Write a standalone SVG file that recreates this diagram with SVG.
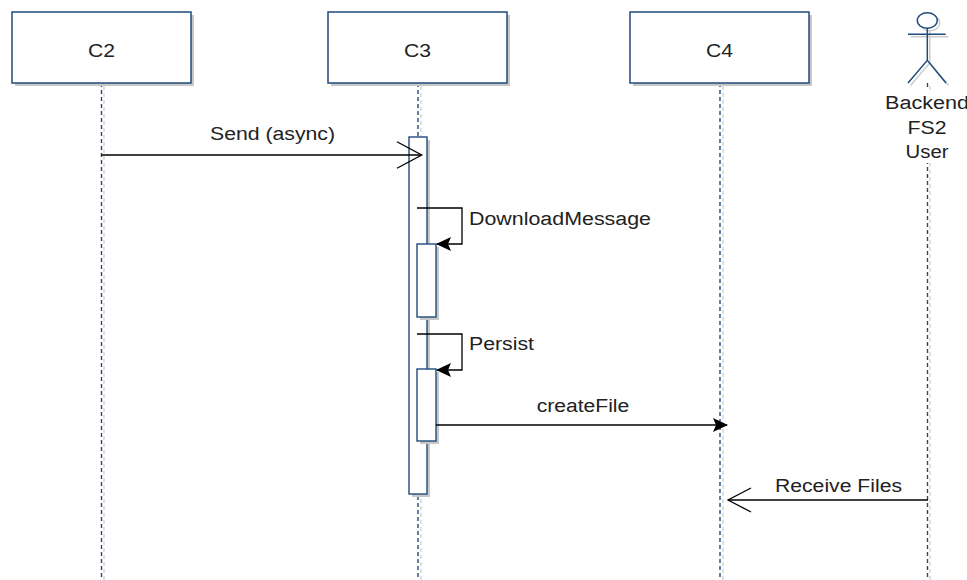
<svg xmlns="http://www.w3.org/2000/svg" width="967" height="580" viewBox="0 0 967 580">
<style>
.box{fill:#fff;stroke:#1f4a7c;stroke-width:1.5}
.sh{fill:#c8c8c8;stroke:none}
.shl{stroke:#d0d0d0;stroke-width:1.3;stroke-dasharray:4 3;fill:none}
.life{stroke:#1f4a7c;stroke-width:1.4;stroke-dasharray:4 3;fill:none}
.act{fill:#fff;stroke:#1f4a7c;stroke-width:1.4}
.msg{stroke:#000;stroke-width:1.3;fill:none}
.t{font-family:"Liberation Sans",Arial,sans-serif;font-size:18px;fill:#222}
.actor{stroke:#1f4a7c;stroke-width:1.5;fill:none}
.actorsh{stroke:#cccccc;stroke-width:1.5;fill:none}
</style>
<defs>
<marker id="block" viewBox="0 0 15 14" refX="14" refY="7" markerWidth="15" markerHeight="14" markerUnits="userSpaceOnUse" orient="auto">
<path d="M0,0 L15,7 L0,14 L3,7 Z" fill="#000"/>
</marker>
</defs>
<rect width="967" height="580" fill="#fff"/>

<g id="lifelines">
<line class="shl" x1="104" y1="86" x2="104" y2="580"/>
<line class="life" x1="101.5" y1="83" x2="101.5" y2="580"/>
<line class="shl" x1="421" y1="86" x2="421" y2="580"/>
<line class="life" x1="418" y1="83" x2="418" y2="580"/>
<line class="shl" x1="723" y1="86" x2="723" y2="580"/>
<line class="life" x1="720" y1="83" x2="720" y2="580"/>
<line class="shl" x1="930" y1="86" x2="930" y2="580"/>
<line class="life" x1="927.5" y1="83" x2="927.5" y2="580"/>
</g>

<g id="C2">
<rect class="sh" x="15" y="15" width="179" height="71"/>
<rect class="box" x="12" y="12" width="179" height="71"/>
<text class="t" x="101.5" y="57" text-anchor="middle" textLength="27" lengthAdjust="spacingAndGlyphs">C2</text>
</g>
<g id="C3">
<rect class="sh" x="331" y="15" width="179" height="71"/>
<rect class="box" x="328" y="12" width="179" height="71"/>
<text class="t" x="417.5" y="57" text-anchor="middle" textLength="27" lengthAdjust="spacingAndGlyphs">C3</text>
</g>
<g id="C4">
<rect class="sh" x="633" y="15" width="179" height="71"/>
<rect class="box" x="630" y="12" width="179" height="71"/>
<text class="t" x="719.5" y="57" text-anchor="middle" textLength="27" lengthAdjust="spacingAndGlyphs">C4</text>
</g>

<g id="actor">
<g transform="translate(2.5,2.5)" class="actorsh">
<ellipse cx="927.3" cy="20.5" rx="10" ry="7.8"/>
<line x1="927.3" y1="28.3" x2="927.3" y2="60.3"/>
<line x1="908" y1="34.3" x2="945.7" y2="34.3"/>
<path d="M908,83 L927.3,60.3 L946,83"/>
</g>
<g class="actor">
<ellipse cx="927.3" cy="20.5" rx="10" ry="7.8" fill="#fff"/>
<line x1="927.3" y1="28.3" x2="927.3" y2="60.3"/>
<line x1="908" y1="34.3" x2="945.7" y2="34.3"/>
<path d="M908,83 L927.3,60.3 L946,83"/>
</g>
<rect x="880" y="90" width="87" height="73" fill="#fff"/>
<text class="t" x="927" y="109" text-anchor="middle" textLength="84" lengthAdjust="spacingAndGlyphs">Backend</text>
<text class="t" x="927" y="133.5" text-anchor="middle" textLength="39" lengthAdjust="spacingAndGlyphs">FS2</text>
<text class="t" x="927" y="158" text-anchor="middle" textLength="43" lengthAdjust="spacingAndGlyphs">User</text>
</g>

<g id="activations">
<rect class="sh" x="412" y="140" width="18" height="357"/>
<rect class="act" x="409" y="137" width="18" height="357"/>
<rect class="sh" x="420" y="247" width="19" height="73"/>
<rect class="act" x="417" y="244" width="19" height="73"/>
<rect class="sh" x="420" y="372" width="19" height="72"/>
<rect class="act" x="417" y="369" width="19" height="72"/>
</g>

<g id="connectors">
<line class="msg" x1="101.5" y1="155" x2="421.5" y2="155"/>
<path class="msg" d="M397,141.7 L421.7,155 L397,168.3"/>
<path class="msg" d="M417,208 H462 V244 H437" marker-end="url(#block)"/>
<path class="msg" d="M417,334 H462 V370 H437" marker-end="url(#block)"/>
<line class="msg" x1="436" y1="425" x2="727" y2="425" marker-end="url(#block)"/>
<line class="msg" x1="928" y1="500" x2="728" y2="500"/>
<path class="msg" d="M751,488 L728,500 L751,512"/>
</g>

<g id="labels">
<text class="t" x="272.5" y="140" text-anchor="middle" textLength="125" lengthAdjust="spacingAndGlyphs">Send (async)</text>
<text class="t" x="469" y="225.3" textLength="182" lengthAdjust="spacingAndGlyphs">DownloadMessage</text>
<text class="t" x="469" y="350" textLength="65" lengthAdjust="spacingAndGlyphs">Persist</text>
<text class="t" x="583" y="411.7" text-anchor="middle" textLength="92.6" lengthAdjust="spacingAndGlyphs">createFile</text>
<text class="t" x="838.5" y="491.7" text-anchor="middle" textLength="127" lengthAdjust="spacingAndGlyphs">Receive Files</text>
</g>
</svg>
